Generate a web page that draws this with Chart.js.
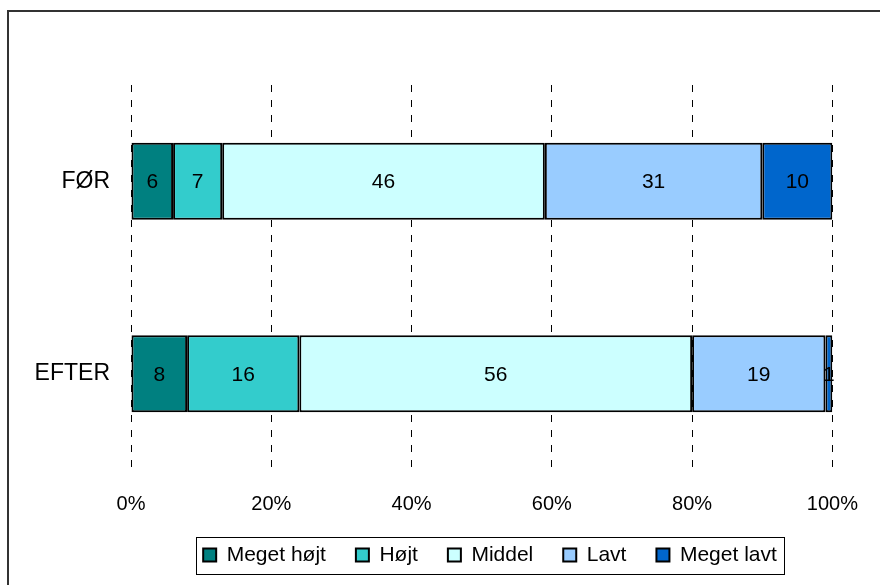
<!DOCTYPE html>
<html>
<head>
<meta charset="utf-8">
<script src="https://cdn.jsdelivr.net/npm/chart.js@4/dist/chart.umd.min.js"></script>
<style>
  html, body { margin: 0; padding: 0; background: #fff; }
  #wrap { width: 880px; height: 585px; position: relative; }
</style>
</head>
<body>
<div id="wrap"><canvas id="c" width="880" height="585"></canvas></div>
<script>
const categories = ['FØR', 'EFTER'];
const seriesNames = ['Meget højt', 'Højt', 'Middel', 'Lavt', 'Meget lavt'];
const megetHoejt = [6, 8];
const hoejt = [7, 16];
const middel = [46, 56];
const lavt = [31, 19];
const megetLavt = [10, 1];
const xTickLabels = ['0%', '20%', '40%', '60%', '80%', '100%'];
const seriesColors = ['#008080', '#33CCCC', '#CCFFFF', '#99CCFF', '#0066CC'];

const seriesValues = [megetHoejt, hoejt, middel, lavt, megetLavt];

const FONT = "'Liberation Sans', Arial, sans-serif";
const LEGEND_FONT = 21;
const LEGEND_PAD = 30;

const frame = {
  id: 'frame',
  beforeDraw(chart) {
    const ctx = chart.ctx;
    ctx.save();
    ctx.strokeStyle = '#333';
    ctx.lineWidth = 2;
    ctx.strokeRect(8, 11, 900, 600);
    ctx.restore();
  }
};

const legendShift = {
  id: 'legendShift',
  afterLayout(chart) {
    const lg = chart.legend;
    if (!lg) return;
    lg.left = 147;
    lg.right = 833;
    if (lg.adjustHitBoxes) lg.adjustHitBoxes();
  }
};

const valueLabels = {
  id: 'valueLabels',
  afterDatasetsDraw(chart) {
    const ctx = chart.ctx;
    ctx.save();
    ctx.font = '21px ' + FONT;
    ctx.fillStyle = '#000';
    ctx.textAlign = 'center';
    ctx.textBaseline = 'middle';
    chart.data.datasets.forEach((ds, i) => {
      const meta = chart.getDatasetMeta(i);
      meta.data.forEach((bar, j) => {
        const p = bar.getProps(['x', 'base', 'y'], true);
        const cx = (p.x + p.base) / 2;
        ctx.fillText(String(ds.data[j]), cx, p.y + 1);
      });
    });
    ctx.restore();
  }
};

const legendBorder = {
  id: 'legendBorder',
  afterDraw(chart) {
    const lg = chart.legend;
    if (!lg || !lg.lineWidths) return;
    const span = lg.lineWidths[0] - LEGEND_PAD;
    const cx = (lg.left + lg.right) / 2;
    const cy = lg.top + LEGEND_PAD + LEGEND_FONT / 2;
    const l = cx - span / 2 - 7;
    const w = span + 14;
    const ctx = chart.ctx;
    ctx.save();
    ctx.strokeStyle = '#000';
    ctx.lineWidth = 1;
    ctx.strokeRect(Math.round(l) + 0.5, Math.round(cy - 18.5) + 0.5, Math.round(w), 37);
    ctx.restore();
  }
};

const datasets = seriesNames.map((name, i) => ({
  label: name,
  data: seriesValues[i],
  backgroundColor: seriesColors[i],
  borderColor: '#000',
  borderWidth: 2,
  borderSkipped: false,
  categoryPercentage: 1.0,
  barPercentage: 0.4
}));

new Chart(document.getElementById('c'), {
  type: 'bar',
  data: { labels: categories, datasets },
  options: {
    indexAxis: 'y',
    responsive: false,
    animation: false,
    devicePixelRatio: 1,
    layout: { padding: { top: 85, right: 47, left: 0, bottom: 9.5 } },
    scales: {
      x: {
        stacked: true,
        min: 0,
        max: 100,
        border: { display: false, dash: [7, 8] },
        grid: {
          color: '#000',
          lineWidth: 1,
          drawTicks: false
        },
        ticks: {
          stepSize: 20,
          padding: 22,
          color: '#000',
          font: { family: FONT, size: 20 },
          callback: (v, i) => xTickLabels[i]
        },
        afterFit(scale) { scale.height = 44.5; }
      },
      y: {
        stacked: true,
        border: { display: false },
        grid: { display: false, drawTicks: false },
        ticks: {
          padding: 21,
          color: '#000',
          font: { family: FONT, size: 23 }
        },
        afterFit(scale) { scale.width = 131; }
      }
    },
    plugins: {
      legend: {
        position: 'bottom',
        labels: {
          color: '#000',
          font: { family: FONT, size: LEGEND_FONT },
          boxWidth: 13,
          boxHeight: 13,
          padding: LEGEND_PAD
        }
      },
      tooltip: { enabled: false }
    }
  },
  plugins: [frame, legendShift, valueLabels, legendBorder]
});
</script>
</body>
</html>
